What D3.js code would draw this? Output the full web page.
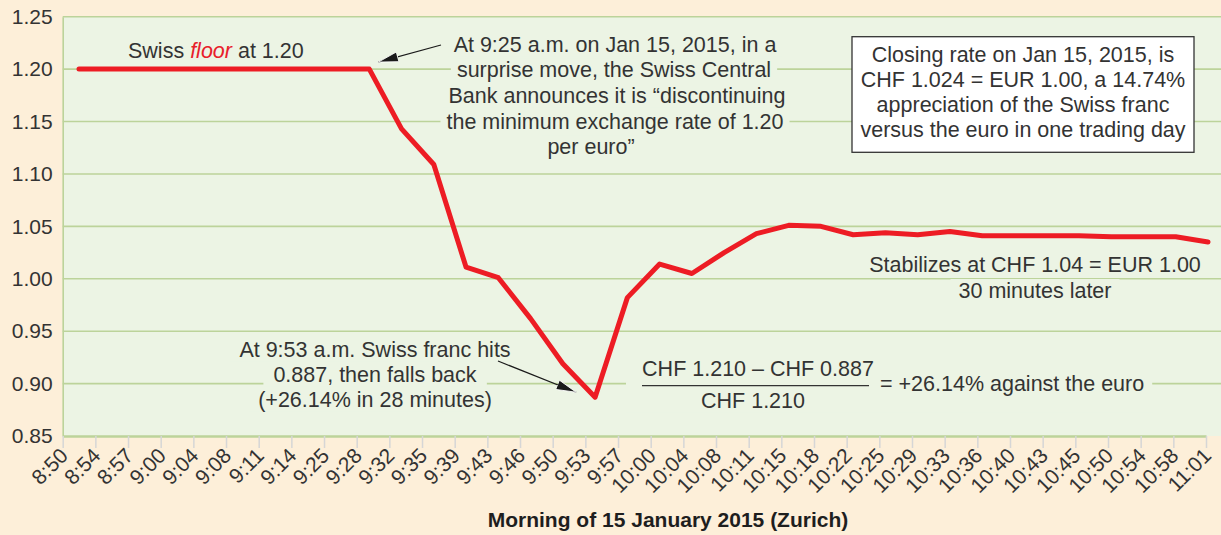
<!DOCTYPE html>
<html>
<head>
<meta charset="utf-8">
<script src="https://cdn.jsdelivr.net/npm/d3@7"></script>
<style>
  html, body { margin: 0; padding: 0; background: #fdefd9; }
  svg { display: block; font-family: "Liberation Sans", Arial, Helvetica, sans-serif; }
  text { fill: #333333; }
</style>
</head>
<body>
<svg id="chart" width="1221" height="535"></svg>
<script>
// time labels (morning of 15 Jan 2015, Zurich)
const categories = ["8:50", "8:54", "8:57", "9:00", "9:04", "9:08", "9:11", "9:14", "9:25", "9:28",
  "9:32", "9:35", "9:39", "9:43", "9:46", "9:50", "9:53", "9:57", "10:00", "10:04",
  "10:08", "10:11", "10:15", "10:18", "10:22", "10:25", "10:29", "10:33", "10:36", "10:40",
  "10:43", "10:45", "10:50", "10:54", "10:58", "11:01"];

// CHF per EUR
const rates = [1.200, 1.200, 1.200, 1.200, 1.200, 1.200, 1.200, 1.200, 1.200, 1.200,
  1.143, 1.109, 1.011, 1.001, 0.962, 0.919, 0.887, 0.982, 1.014, 1.005,
  1.025, 1.043, 1.051, 1.050, 1.042, 1.044, 1.042, 1.045, 1.041, 1.041,
  1.041, 1.041, 1.040, 1.040, 1.040, 1.035];

const yTicks = [0.85, 0.90, 0.95, 1.00, 1.05, 1.10, 1.15, 1.20, 1.25];

const width = 1221, height = 535;
const plotLeft = 62.7, plotTop = 16.7, plotBottom = 436;

const svg = d3.select("#chart");

const xTick = d3.scalePoint().domain(categories).range([plotLeft, 1206]);
const x = d3.scalePoint().domain(categories).range([79, 1208]); // line points sit a bit off the ticks
const y = d3.scaleLinear().domain([0.85, 1.25]).range([plotBottom, plotTop]);

// plot background
svg.append("rect")
  .attr("x", plotLeft).attr("y", plotTop)
  .attr("width", width - plotLeft).attr("height", plotBottom - plotTop)
  .attr("fill", "#ecf4e4");

// gridlines
svg.append("g").selectAll("line")
  .data(yTicks.slice(1))
  .join("line")
  .attr("x1", plotLeft).attr("x2", width)
  .attr("y1", d => y(d)).attr("y2", d => y(d))
  .attr("stroke", "#bcd39a")
  .attr("stroke-width", 1.6);

// y axis
const yAxis = svg.append("g")
  .attr("transform", `translate(${plotLeft},0)`)
  .call(d3.axisLeft(y).tickValues(yTicks).tickFormat(d3.format(".2f")).tickSize(0).tickPadding(10));
yAxis.select(".domain").attr("stroke", "#bcd39a").attr("stroke-width", 1.6);
yAxis.selectAll("text")
  .attr("font-size", 21)
  .attr("font-family", null)
  .attr("fill", "#333333");

// x axis
const xAxis = svg.append("g")
  .attr("transform", `translate(0,${plotBottom})`)
  .call(d3.axisBottom(xTick).tickSize(12).tickSizeOuter(0));
xAxis.select(".domain").attr("stroke", "#bcd39a").attr("stroke-width", 2.5);
xAxis.selectAll(".tick line").attr("stroke", "#d6d6d6").attr("stroke-width", 1.5);
xAxis.selectAll(".tick text")
  .attr("font-size", 21)
  .attr("font-family", null)
  .attr("fill", "#333333")
  .attr("text-anchor", "end")
  .attr("y", 0).attr("dy", 0)
  .attr("transform", "translate(6,21) rotate(-45)");

svg.append("text")
  .attr("x", 668).attr("y", 527)
  .attr("text-anchor", "middle")
  .attr("font-size", 21)
  .attr("font-weight", "bold")
  .style("fill", "#1e1e1e")
  .text("Morning of 15 January 2015 (Zurich)");

// annotation layers: backgrounds under text, so gridlines break around it
const bgLayer = svg.append("g");
const textLayer = svg.append("g");

function note(lines, cx, y0, step, anchor, pad) {
  lines.forEach((ln, i) => {
    const lx = Array.isArray(cx) ? cx[i] : cx;
    const t = textLayer.append("text")
      .attr("x", lx).attr("y", y0 + i * step)
      .attr("text-anchor", anchor)
      .attr("font-size", 21.5)
      .text(ln);
    const b = t.node().getBBox();
    bgLayer.append("rect")
      .attr("x", b.x - pad).attr("y", b.y)
      .attr("width", b.width + 2 * pad).attr("height", b.height)
      .attr("fill", "#ecf4e4");
  });
}

// Swiss floor
const floorText = textLayer.append("text")
  .attr("x", 128).attr("y", 58.3)
  .attr("font-size", 21.5);
floorText.append("tspan").text("Swiss ");
floorText.append("tspan").attr("font-style", "italic").style("fill", "#e8202a").text("floor");
floorText.append("tspan").text(" at 1.20");

note([
  "At 9:25 a.m. on Jan 15, 2015, in a",
  "surprise move, the Swiss Central",
  "Bank announces it is \u201cdiscontinuing",
  "the minimum exchange rate of 1.20",
  "per euro\u201d"
], [615, 614, 617, 615, 591], 51.7, 25.6, "middle", 6);

note([
  "At 9:53 a.m. Swiss franc hits",
  "0.887, then falls back",
  "(+26.14% in 28 minutes)"
], 375, 356.7, 25, "middle", 10);

note([
  "Stabilizes at CHF 1.04 = EUR 1.00",
  "30 minutes later"
], 1035, 271.7, 26.3, "middle", 8);

// fraction block
const frac = textLayer.append("g");
frac.append("text").attr("x", 758).attr("y", 375.7).attr("text-anchor", "middle")
  .attr("font-size", 21.5).text("CHF 1.210 \u2013 CHF 0.887");
frac.append("line").attr("x1", 642).attr("x2", 869).attr("y1", 385.7).attr("y2", 385.7)
  .attr("stroke", "#333333").attr("stroke-width", 1.2);
frac.append("text").attr("x", 753).attr("y", 407.7).attr("text-anchor", "middle")
  .attr("font-size", 21.5).text("CHF 1.210");
frac.append("text").attr("x", 880).attr("y", 390.7)
  .attr("font-size", 21.5).text("= +26.14% against the euro");
const fb = frac.node().getBBox();
bgLayer.append("rect")
  .attr("x", fb.x - 16).attr("y", fb.y)
  .attr("width", fb.width + 24).attr("height", fb.height)
  .attr("fill", "#ecf4e4");

// closing-rate box
const boxLines = [
  "Closing rate on Jan 15, 2015, is",
  "CHF 1.024 = EUR 1.00, a 14.74%",
  "appreciation of the Swiss franc",
  "versus the euro in one trading day"
];
textLayer.append("rect")
  .attr("x", 852).attr("y", 36.7).attr("width", 342).attr("height", 115.6)
  .attr("fill", "#ffffff").attr("stroke", "#333").attr("stroke-width", 1.3);
textLayer.selectAll(".boxline")
  .data(boxLines)
  .join("text")
  .attr("class", "boxline")
  .attr("x", 1023).attr("y", (d, i) => 61.7 + i * 25)
  .attr("text-anchor", "middle")
  .attr("font-size", 21.5)
  .text(d => d);

// the rate line
const line = d3.line()
  .x((d, i) => x(categories[i]))
  .y(d => y(d));

svg.append("path")
  .datum(rates)
  .attr("d", line)
  .attr("fill", "none")
  .attr("stroke", "#ed1c24")
  .attr("stroke-width", 5)
  .attr("stroke-linejoin", "round")
  .attr("stroke-linecap", "round");

// arrows
svg.append("defs").append("marker")
  .attr("id", "head")
  .attr("viewBox", "0 0 20 10")
  .attr("refX", 20).attr("refY", 5)
  .attr("markerWidth", 20).attr("markerHeight", 10)
  .attr("markerUnits", "userSpaceOnUse")
  .attr("orient", "auto")
  .append("path")
  .attr("d", "M0,0 L20,5 L0,10 Z")
  .attr("fill", "#1a1a1a")
  .attr("stroke", "#ffffff")
  .attr("stroke-width", 0.8);

const iFloorEnd = categories.indexOf("9:28");
const iLow = categories.indexOf("9:53");

svg.append("line")
  .attr("x1", 441).attr("y1", 45)
  .attr("x2", x(categories[iFloorEnd]) + 9).attr("y2", y(rates[iFloorEnd]) - 7)
  .attr("stroke", "#1a1a1a").attr("stroke-width", 1.2)
  .attr("marker-end", "url(#head)");

svg.append("line")
  .attr("x1", 498).attr("y1", 361)
  .attr("x2", x(categories[iLow]) - 19).attr("y2", y(rates[iLow]) - 5)
  .attr("stroke", "#1a1a1a").attr("stroke-width", 1.2)
  .attr("marker-end", "url(#head)");
</script>
</body>
</html>
